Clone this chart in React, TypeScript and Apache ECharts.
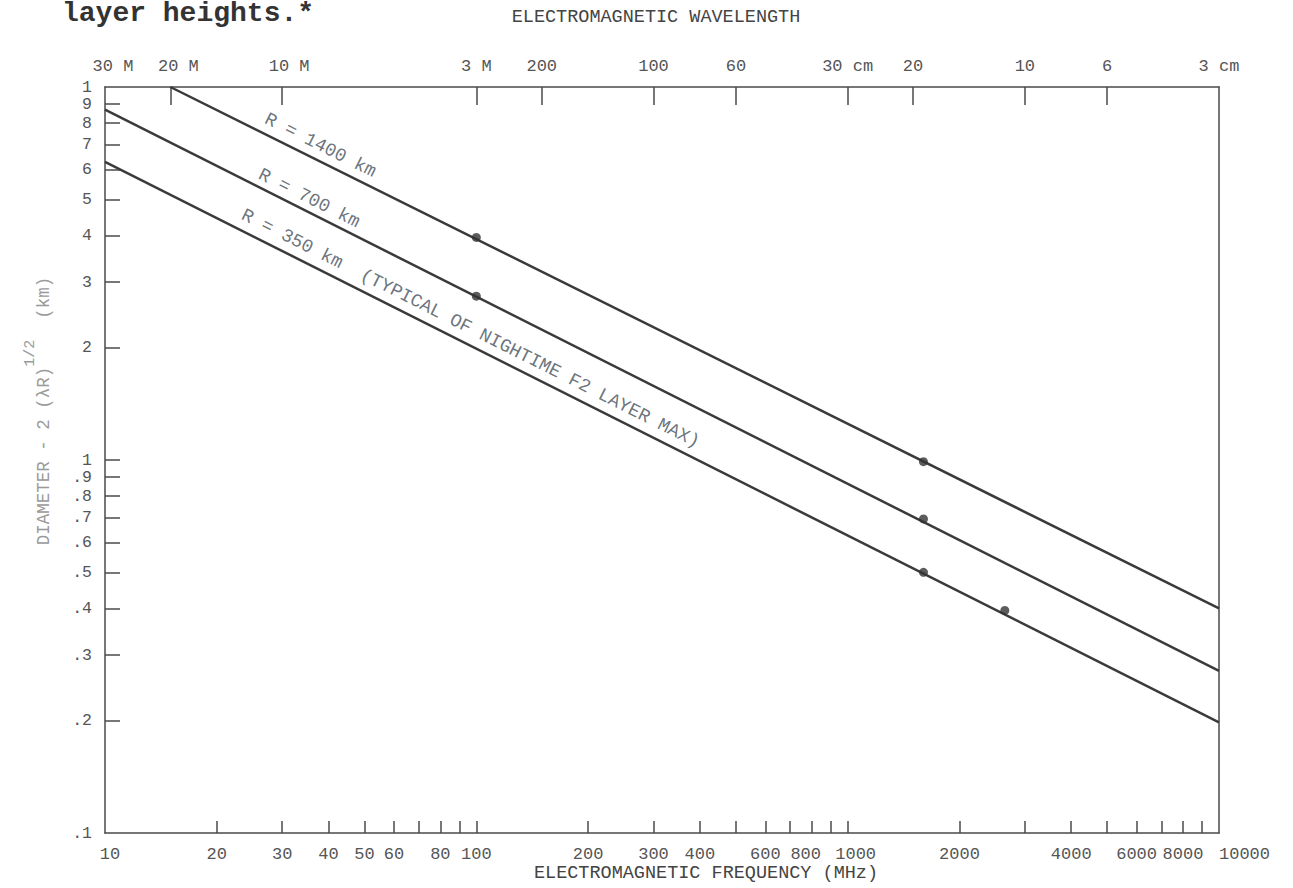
import React, { useEffect, useRef } from 'react';
import * as echarts from 'echarts';

// Frequency axis (bottom), MHz
const freqTickValues = [20, 30, 40, 50, 60, 70, 80, 90, 100, 200, 300, 400, 500, 600, 700, 800, 900, 1000, 2000, 3000, 4000, 5000, 6000, 7000, 8000, 9000];
const freqLabelValues = [10, 20, 30, 40, 50, 60, 80, 100, 200, 300, 400, 600, 800, 1000, 2000, 4000, 6000, 8000, 10000];

// Wavelength axis (top): frequency position and wavelength label
const waveTickFreqs = [15, 30, 100, 150, 300, 500, 1000, 1500, 3000, 5000];
const waveLabelFreqs = [10, 15, 30, 100, 150, 300, 500, 1000, 1500, 3000, 5000, 10000];
const waveLabels = ['30 M', '20 M', '10 M', '3 M', '200', '100', '60', '30 cm', '20', '10', '6', '3 cm'];

// Diameter axis (left), km
const diamTickValues = [0.2, 0.3, 0.4, 0.5, 0.6, 0.7, 0.8, 0.9, 1, 2, 3, 4, 5, 6, 7, 8, 9];
const diamLabelValues = [0.1, 0.2, 0.3, 0.4, 0.5, 0.6, 0.7, 0.8, 0.9, 1, 2, 3, 4, 5, 6, 7, 8, 9, 10];
const diamLabels = ['.1', '.2', '.3', '.4', '.5', '.6', '.7', '.8', '.9', '1', '2', '3', '4', '5', '6', '7', '8', '9', '1'];

// Lines (frequency MHz, diameter km)
const r1400 = [[15, 10], [10000, 0.4]];
const r700 = [[10, 8.7], [10000, 0.272]];
const r350 = [[10, 6.3], [10000, 0.198]];
const markedPoints = [[100, 3.95], [100, 2.75], [1600, 0.99], [1600, 0.695], [1600, 0.5], [2650, 0.395]];

const lineLabels = ['R = 1400 km', 'R = 700 km', 'R = 350 km  (TYPICAL OF NIGHTIME F2 LAYER MAX)'];
const lineLabelAnchors = [[26, 7.6], [25, 5.4], [22.5, 4.2]];

const MONO = '"Liberation Mono", "DejaVu Sans Mono", monospace';
const AXIS_COLOR = '#4a4a4a';
const LABEL_COLOR = '#555';
const LINE_COLOR = '#3a3a3a';

// typewriter label nudges (style only): positive = shift right in px
const bottomNudge: Record<string, number> = { '10': 5, '800': -6, '1000': 8 };
const topNudge: Record<string, number> = { '30 M': 8, '20 M': 8, '10 M': 7 };

const nudged = (text: string, n: number | undefined) => {
  if (!n) return text;
  return n > 0 ? `{r${Math.round(n)}|${text}}` : `{l${Math.round(-n)}|${text}}`;
};
const nudgeRich = (fontSize: number, color: string) => {
  const rich: Record<string, any> = {};
  for (let i = 1; i <= 12; i++) {
    rich['r' + i] = { padding: [0, 0, 0, 2 * i], fontFamily: MONO, fontSize, color };
    rich['l' + i] = { padding: [0, 2 * i, 0, 0], fontFamily: MONO, fontSize, color };
  }
  return rich;
};

export default function App() {
  const ref = useRef<HTMLDivElement>(null);

  useEffect(() => {
    if (!ref.current) return;
    const chart = echarts.init(ref.current, undefined, { renderer: 'svg' });

    const freqLabelMap: Record<string, string> = {};
    waveLabelFreqs.forEach((f, i) => { freqLabelMap[String(f)] = waveLabels[i]; });
    const diamLabelMap: Record<string, string> = {};
    diamLabelValues.forEach((v, i) => { diamLabelMap[String(v)] = diamLabels[i]; });

    const lineSeries = (data: number[][]) => ({
      type: 'line',
      data,
      symbol: 'none',
      lineStyle: { color: LINE_COLOR, width: 2.5 },
      silent: true,
      z: 3,
    });

    chart.setOption({
      animation: false,
      backgroundColor: '#ffffff',
      grid: { left: 105, right: 74, top: 87, bottom: 50, containLabel: false },
      xAxis: [
        {
          type: 'log',
          logBase: 10,
          min: 10,
          max: 10000,
          position: 'bottom',
          name: 'ELECTROMAGNETIC FREQUENCY (MHz)',
          nameLocation: 'middle',
          nameGap: 31,
          nameMoveOverlap: false,
          nameTextStyle: { fontFamily: MONO, fontSize: 18.5, color: '#444', padding: [0, 0, 0, 88] },
          axisLine: { show: true, lineStyle: { color: AXIS_COLOR, width: 1.5 } },
          axisTick: { show: true, inside: true, length: 12, customValues: freqTickValues, lineStyle: { color: AXIS_COLOR, width: 1.5 } },
          axisLabel: {
            show: true,
            customValues: freqLabelValues,
            margin: 13,
            fontFamily: MONO,
            fontSize: 17,
            color: LABEL_COLOR,
            showMinLabel: true,
            showMaxLabel: true,
            hideOverlap: false,
            alignMaxLabel: 'left',
            rich: nudgeRich(17, LABEL_COLOR),
            formatter: (v: number) => {
              const t = String(Math.round(v));
              return nudged(t, bottomNudge[t]);
            },
          },
          splitLine: { show: false },
          minorTick: { show: false },
        },
        {
          type: 'log',
          logBase: 10,
          min: 10,
          max: 10000,
          position: 'top',
          name: 'ELECTROMAGNETIC WAVELENGTH',
          nameLocation: 'middle',
          nameGap: 60,
          nameMoveOverlap: false,
          nameTextStyle: { fontFamily: MONO, fontSize: 18.5, color: '#444', padding: [0, 12, 0, 0] },
          axisLine: { show: true, lineStyle: { color: AXIS_COLOR, width: 1.5 } },
          axisTick: { show: true, inside: true, length: 18, customValues: waveTickFreqs, lineStyle: { color: AXIS_COLOR, width: 1.5 } },
          axisLabel: {
            show: true,
            customValues: waveLabelFreqs,
            margin: 12,
            fontFamily: MONO,
            fontSize: 17,
            color: LABEL_COLOR,
            showMinLabel: true,
            showMaxLabel: true,
            hideOverlap: false,
            rich: nudgeRich(17, LABEL_COLOR),
            formatter: (v: number) => {
              const t = freqLabelMap[String(Math.round(v))] ?? '';
              return nudged(t, topNudge[t]);
            },
          },
          splitLine: { show: false },
        },
      ],
      yAxis: [
        {
          type: 'log',
          logBase: 10,
          min: 0.1,
          max: 10,
          position: 'left',
          axisLine: { show: true, lineStyle: { color: AXIS_COLOR, width: 1.5 } },
          axisTick: { show: true, inside: true, length: 15, customValues: diamTickValues, lineStyle: { color: AXIS_COLOR, width: 1.5 } },
          axisLabel: {
            show: true,
            customValues: diamLabelValues,
            margin: 13,
            fontFamily: MONO,
            fontSize: 16.5,
            color: LABEL_COLOR,
            showMinLabel: true,
            showMaxLabel: true,
            hideOverlap: false,
            formatter: (v: number) => diamLabelMap[String(Number(v.toPrecision(6)))] ?? '',
          },
          splitLine: { show: false },
        },
        {
          type: 'log',
          logBase: 10,
          min: 0.1,
          max: 10,
          position: 'right',
          axisLine: { show: true, lineStyle: { color: AXIS_COLOR, width: 1.5 } },
          axisTick: { show: false },
          axisLabel: { show: false },
          splitLine: { show: false },
        },
      ],
      series: [
        lineSeries(r1400),
        lineSeries(r700),
        lineSeries(r350),
        {
          type: 'scatter',
          data: markedPoints,
          symbol: 'circle',
          symbolSize: 9,
          itemStyle: { color: '#333' },
          silent: true,
          z: 4,
        },
        {
          type: 'scatter',
          data: lineLabelAnchors.map((p, i) => ({ value: p, name: lineLabels[i] })),
          symbolSize: 0,
          silent: true,
          z: 5,
          label: {
            show: true,
            position: [0, 0],
            align: 'left',
            verticalAlign: 'bottom',
            rotate: -26.7,
            padding: [0, 0, 5, 0],
            fontFamily: MONO,
            fontSize: 18.5,
            color: '#46505a',
            formatter: (p: any) => p.name,
          },
        },
      ],
      graphic: [
        {
          type: 'text',
          left: 62,
          top: -1,
          style: {
            text: 'layer heights.*',
            font: 'bold 28px "Liberation Mono", monospace',
            fill: '#333',
          },
        },
        {
          type: 'text',
          x: 38,
          y: 411,
          rotation: Math.PI / 2,
          style: {
            text: '{b|DIAMETER - 2 (λR)}{s|1/2}{b|  (km)}',
            align: 'center',
            verticalAlign: 'middle',
            rich: {
              b: { fontFamily: MONO, fontSize: 17.5, fill: '#9a9a9a', verticalAlign: 'bottom', lineHeight: 30 },
              s: { fontFamily: MONO, fontSize: 15, fill: '#9a9a9a', verticalAlign: 'top', lineHeight: 30 },
            },
          },
        },
      ],
    });

    return () => chart.dispose();
  }, []);

  return (
    <div
      ref={ref}
      style={{ position: 'fixed', left: 0, top: 0, width: 1293, height: 888, background: '#fff' }}
    />
  );
}
